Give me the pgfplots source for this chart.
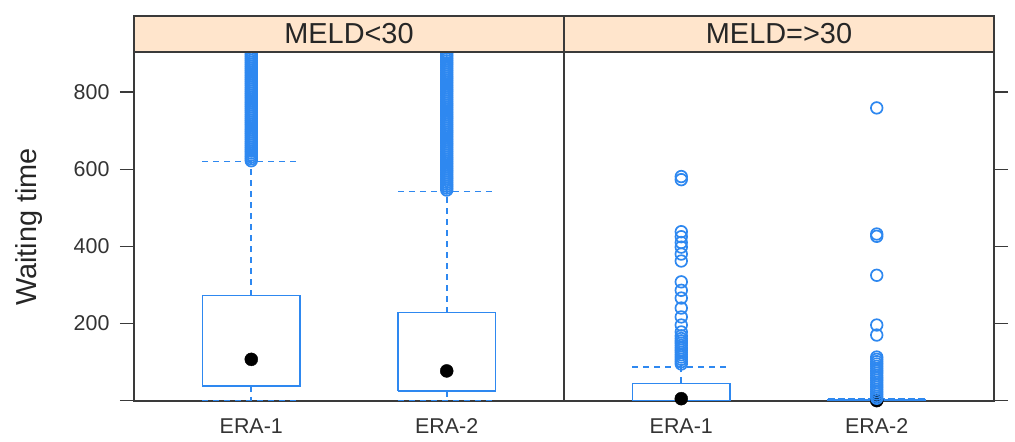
\documentclass[border=0pt]{standalone}
\usepackage{fontspec}
\setmainfont{Liberation Sans}
\usepackage{pgfplots}
\pgfplotsset{compat=1.18}
\definecolor{bw}{HTML}{2E88F0}
\definecolor{stripc}{HTML}{FFE5CC}
\definecolor{frame}{HTML}{3A3A3A}
\begin{document}
\begin{tikzpicture}
\useasboundingbox (0bp,0bp) rectangle (1015bp,442bp);
\pgfplotsset{
 panel/.style={
  scale only axis, width=430bp, height=349bp,
  xmin=0.4, xmax=2.6, ymin=-1, ymax=904,
  xtick={1,2}, xticklabels={ERA-1,ERA-2},
  x tick style={draw=none},
  ytick={0,200,400,600,800},
  tick align=outside, major tick length=14bp,
  axis line style={frame, line width=1.2bp},
  y tick style={frame, line width=1.2bp},
  ticklabel style={font=\fontsize{21.5}{24}\selectfont, text=black!80},
  /pgf/number format/assume math mode=true,
  xticklabel style={yshift=0bp},
  yticklabel style={xshift=-7bp},
 },
 boxl/.style={bw, line width=1.5bp},
 whisk/.style={bw, line width=1.6bp, dash pattern=on 6bp off 5bp},
 med/.style={only marks, mark=*, mark size=6.5bp, black},
 outl/.style={only marks, mark=o, mark size=5.8bp, bw, mark options={line width=1.7bp}},
}
% ---------------- left panel ----------------
\begin{axis}[panel, name=A, at={(134bp,41bp)}, anchor=south west,
  ytick pos=left, yticklabels={,200,400,600,800}]
% ERA-1
\addplot[boxl] coordinates {(0.75,38)(1.25,38)(1.25,272)(0.75,272)(0.75,38)};
\addplot[whisk] coordinates {(1,272)(1,620)};
\addplot[whisk] coordinates {(0.75,620)(1.25,620)};
\addplot[whisk] coordinates {(1,38)(1,0)};
\addplot[whisk] coordinates {(0.75,0)(1.25,0)};
\addplot[med] coordinates {(1,107)};
\addplot[outl] coordinates {(1,622)(1,627)(1,632)(1,637)(1,642)(1,647)(1,652)(1,657)(1,662)(1,667)(1,672)(1,677)(1,682)(1,687)(1,692)(1,697)(1,702)(1,707)(1,712)(1,717)(1,722)(1,727)(1,732)(1,737)(1,742)(1,747)(1,752)(1,757)(1,762)(1,767)(1,772)(1,777)(1,782)(1,787)(1,792)(1,797)(1,802)(1,807)(1,812)(1,817)(1,822)(1,827)(1,832)(1,837)(1,842)(1,847)(1,852)(1,857)(1,862)(1,867)(1,872)(1,877)(1,882)(1,887)(1,892)(1,897)(1,902)(1,907)};
% ERA-2
\addplot[boxl] coordinates {(1.75,25)(2.25,25)(2.25,228)(1.75,228)(1.75,25)};
\addplot[whisk] coordinates {(2,228)(2,542)};
\addplot[whisk] coordinates {(1.75,542)(2.25,542)};
\addplot[whisk] coordinates {(2,25)(2,0)};
\addplot[whisk] coordinates {(1.75,0)(2.25,0)};
\addplot[med] coordinates {(2,77)};
\addplot[outl] coordinates {(2,546)(2,551)(2,556)(2,561)(2,566)(2,571)(2,576)(2,581)(2,586)(2,591)(2,596)(2,601)(2,606)(2,611)(2,616)(2,621)(2,626)(2,631)(2,636)(2,641)(2,646)(2,651)(2,656)(2,661)(2,666)(2,671)(2,676)(2,681)(2,686)(2,691)(2,696)(2,701)(2,706)(2,711)(2,716)(2,721)(2,726)(2,731)(2,736)(2,741)(2,746)(2,751)(2,756)(2,761)(2,766)(2,771)(2,776)(2,781)(2,786)(2,791)(2,796)(2,801)(2,806)(2,811)(2,816)(2,821)(2,826)(2,831)(2,836)(2,841)(2,846)(2,851)(2,856)(2,861)(2,866)(2,871)(2,876)(2,881)(2,886)(2,891)(2,896)(2,901)(2,906)};
\end{axis}
% ---------------- right panel ----------------
\begin{axis}[panel, name=B, at={(564bp,41bp)}, anchor=south west,
  ytick pos=right, yticklabels={}]
% ERA-1
\addplot[boxl] coordinates {(0.75,0)(1.25,0)(1.25,45)(0.75,45)(0.75,0)};
\addplot[whisk] coordinates {(1,45)(1,87)};
\addplot[whisk] coordinates {(0.75,87)(1.25,87)};
\addplot[whisk] coordinates {(0.75,0)(1.25,0)};
\addplot[med] coordinates {(1,5)};
\addplot[outl] coordinates {(1,581)(1,573)(1,438)(1,425)(1,410)(1,398)(1,380)(1,362)(1,308)(1,286)(1,266)(1,240)(1,217)(1,196)(1,178)(1,168)(1,161)(1,155)(1,149)(1,143)(1,137)(1,131)(1,125)(1,119)(1,113)(1,107)(1,101)(1,95)};
% ERA-2
\addplot[boxl] coordinates {(1.75,0)(2.25,0)(2.25,2)(1.75,2)(1.75,0)};
\addplot[bw, line width=3bp, dash pattern=on 7bp off 3bp] coordinates {(1.75,2)(2.25,2)};
\addplot[med] coordinates {(2,0)};
\addplot[outl] coordinates {(2,759)(2,432)(2,426)(2,325)(2,196)(2,170)(2,113)(2,107)(2,101)(2,95)(2,89)(2,83)(2,77)(2,71)(2,65)(2,59)(2,53)(2,47)(2,41)(2,35)(2,29)(2,23)(2,17)(2,11)(2,6)};
\end{axis}
% ---------------- strips ----------------
\draw[frame, line width=1.2bp, fill=stripc] (A.north west) rectangle ([yshift=36bp]A.north east);
\draw[frame, line width=1.2bp, fill=stripc] (B.north west) rectangle ([yshift=36bp]B.north east);
\node[font=\fontsize{29}{32}\selectfont, text=black!85] at ([yshift=18bp]A.north) {MELD<30};
\node[font=\fontsize{29}{32}\selectfont, text=black!85] at ([yshift=18bp]B.north) {MELD=>30};
\node[rotate=90, font=\fontsize{29}{32}\selectfont, text=black!85] at (29bp,215bp) {Waiting time};
\end{tikzpicture}
\end{document}
